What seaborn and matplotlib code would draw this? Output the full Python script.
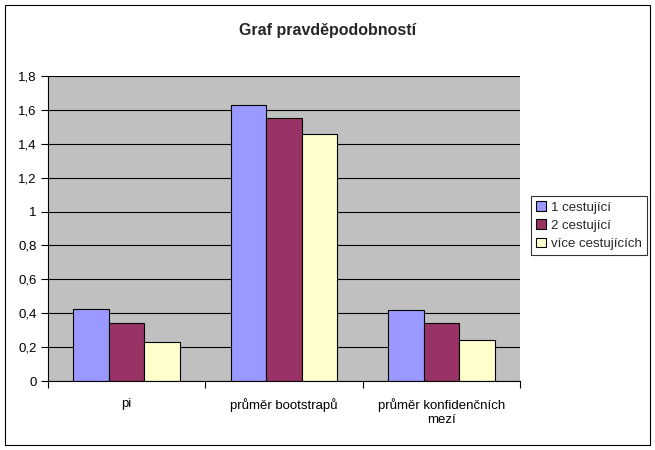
import matplotlib
matplotlib.use("Agg")
import matplotlib.pyplot as plt
import seaborn as sns
import pandas as pd
from matplotlib.patches import Rectangle
from matplotlib.ticker import FuncFormatter, FixedLocator

categories = ["pi", "průměr bootstrapů", "průměr konfidenčních\nmezí"]
series_names = ["1 cestující", "2 cestující", "více cestujících"]
s1 = [0.423, 1.627, 0.417]
s2 = [0.341, 1.551, 0.342]
s3 = [0.228, 1.456, 0.240]
colors = ["#9999FF", "#993366", "#FFFFCC"]

rows = []
for name, vals in zip(series_names, [s1, s2, s3]):
    for c, v in zip(categories, vals):
        rows.append({"cat": c, "series": name, "val": v})
df = pd.DataFrame(rows)

sns.set_theme(style="white")
plt.rcParams["font.family"] = ["Liberation Sans", "DejaVu Sans"]

fig = plt.figure(figsize=(6.55, 4.5), dpi=100)
W, H = 655, 450
ax = fig.add_axes([48 / W, 1 - 381 / H, (520 - 48) / W, (381 - 76) / H])
ax.set_facecolor("#C0C0C0")

sns.barplot(data=df, x="cat", y="val", hue="series", order=categories,
            hue_order=series_names, palette=colors, width=0.68,
            edgecolor="black", linewidth=0.8, saturation=1, ax=ax, legend=True)

ax.set_ylim(0, 1.8)
ax.set_xlim(-0.5, 2.5)
ax.set_yticks([i * 0.2 for i in range(10)])
ax.yaxis.set_major_formatter(FuncFormatter(lambda v, p: ("%g" % round(v, 1)).replace(".", ",")))
ax.yaxis.grid(True, color="black", linewidth=0.8)
ax.set_axisbelow(True)
ax.set_xlabel("")
ax.set_ylabel("")
for s in ["top", "right"]:
    ax.spines[s].set_visible(False)
for s in ["left", "bottom"]:
    ax.spines[s].set_color("black")
    ax.spines[s].set_linewidth(0.8)

ax.tick_params(axis="y", which="major", left=True, length=5, width=0.8, color="black",
               labelsize=9.5, pad=3, labelcolor="black")
ax.tick_params(axis="x", which="major", bottom=False, labelsize=9.5, pad=6, labelcolor="black")
for lbl in ax.get_xticklabels():
    lbl.set_linespacing(1.3)
ax.xaxis.set_minor_locator(FixedLocator([-0.5, 0.5, 1.5, 2.5]))
ax.tick_params(axis="x", which="minor", bottom=True, length=5, width=0.8, color="black")

leg = ax.legend(loc="upper left", bbox_to_anchor=((531 - 48) / (520 - 48), 1 - (196 - 76) / (381 - 76)),
                frameon=True, fancybox=False, fontsize=9.5, handlelength=0.7, handleheight=0.7,
                handletextpad=0.4, borderpad=0.4, labelspacing=0.45, borderaxespad=0)
leg.get_frame().set_edgecolor("black")
leg.get_frame().set_linewidth(0.8)

fig.text(0.5, 1 - 30 / H, "Graf pravděpodobností",
         ha="center", va="center", fontsize=11.5, fontweight="bold")

fig.patches.append(Rectangle((5 / W, 5 / H), 645 / W, 440 / H, transform=fig.transFigure,
                             fill=False, edgecolor="black", linewidth=0.8))

fig.savefig("out.png", dpi=100, facecolor="white")
